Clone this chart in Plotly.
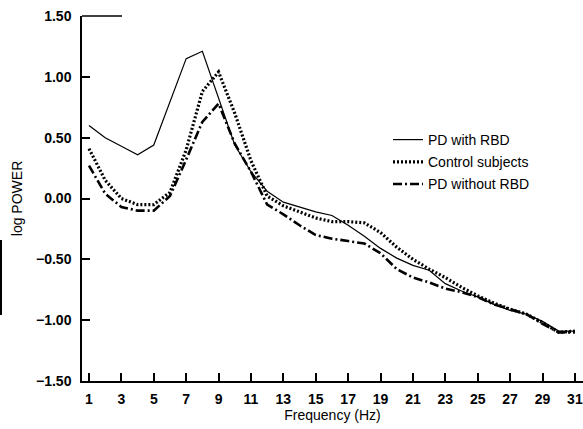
import plotly.graph_objects as go

freq = list(range(1, 32))

pd_with_rbd = [0.60, 0.50, 0.43, 0.36, 0.44, 0.79, 1.15, 1.21, 0.82, 0.44, 0.22,
               0.06, -0.03, -0.07, -0.11, -0.14, -0.22, -0.31, -0.41, -0.49, -0.55,
               -0.59, -0.70, -0.76, -0.81, -0.87, -0.92, -0.95, -1.01, -1.09, -1.09]

control = [0.41, 0.15, 0.00, -0.05, -0.05, 0.05, 0.40, 0.88, 1.04, 0.70, 0.31,
           0.02, -0.06, -0.11, -0.16, -0.19, -0.19, -0.20, -0.28, -0.40, -0.50,
           -0.58, -0.65, -0.73, -0.80, -0.86, -0.91, -0.95, -1.02, -1.10, -1.09]

pd_without_rbd = [0.27, 0.04, -0.07, -0.10, -0.10, 0.02, 0.32, 0.63, 0.78, 0.45, 0.22,
                  -0.05, -0.13, -0.22, -0.30, -0.33, -0.35, -0.37, -0.45, -0.58, -0.65,
                  -0.69, -0.74, -0.77, -0.81, -0.87, -0.91, -0.95, -1.03, -1.10, -1.10]

x_ticks = list(range(1, 32, 2))
y_ticks = [-1.5, -1.0, -0.5, 0.0, 0.5, 1.0, 1.5]

fig = go.Figure()
fig.add_trace(go.Scatter(x=freq, y=pd_with_rbd, mode="lines", name="PD with RBD",
                         legendgroup="a",
                         line=dict(color="black", width=1.2)))
fig.add_trace(go.Scatter(x=freq, y=control, mode="lines", name="Control subjects",
                         legendgroup="b",
                         line=dict(color="black", width=3.2, dash="2px,2px")))
fig.add_trace(go.Scatter(x=freq, y=pd_without_rbd, mode="lines", name="PD without RBD",
                         legendgroup="c",
                         line=dict(color="black", width=2.6, dash="9px,3px,2px,3px")))

fig.add_shape(type="line", xref="paper", yref="paper", x0=0, x1=40/501, y0=1, y1=1,
              line=dict(color="black", width=1.5))
fig.add_shape(type="line", xref="paper", yref="paper", x0=-81/501, x1=-81/501,
              y0=(381-240)/365, y1=(381-315)/365, line=dict(color="black", width=2))

fig.update_layout(
    width=583, height=429,
    margin=dict(l=82, r=0, t=16, b=48),
    paper_bgcolor="white", plot_bgcolor="white",
    font=dict(family="Liberation Sans, Arial, sans-serif", size=14, color="black"),
    legend=dict(x=(388-82)/501, y=(381-124)/365, xanchor="left", yanchor="top",
                bgcolor="rgba(0,0,0,0)", tracegroupgap=1,
                font=dict(size=14)),
    xaxis=dict(range=[0.568, 31.5], tickvals=x_ticks, ticks="inside", ticklen=8,
               tickwidth=1.5, tickcolor="black", showline=True, linewidth=1.5,
               linecolor="black", showgrid=False, zeroline=False,
               automargin=False, ticklabelstandoff=4,
               tickfont=dict(size=14, weight="bold"),
               title=dict(text="Frequency (Hz)", standoff=0, font=dict(size=14))),
    yaxis=dict(range=[-1.5, 1.5], tickvals=y_ticks, tickformat=".2f", ticks="inside",
               ticklen=8, tickwidth=1.5, tickcolor="black", showline=True,
               linewidth=1.5, linecolor="black", showgrid=False, zeroline=False,
               automargin=False, ticklabelstandoff=6,
               tickfont=dict(size=14, weight="bold"),
               title=dict(text="log POWER", standoff=10, font=dict(size=14))),
)

fig.write_html("out.html", config={"displayModeBar": False},
               post_script="document.body.style.margin='0';")
